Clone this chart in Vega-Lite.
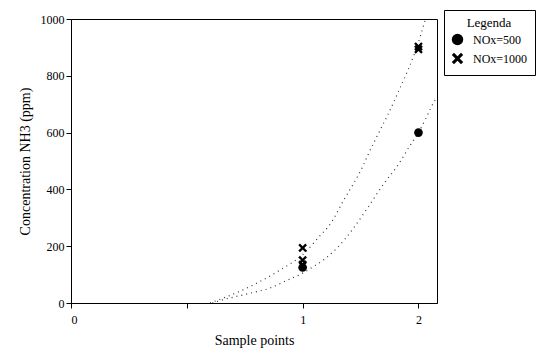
{
  "$schema": "https://vega.github.io/schema/vega-lite/v6.json",
  "width": 366,
  "height": 284,
  "autosize": "none",
  "padding": {"left": 71, "top": 19, "right": 104, "bottom": 50},
  "background": "white",
  "config": {
    "font": "Liberation Serif",
    "view": {"stroke": "black", "strokeWidth": 1},
    "axis": {
      "grid": false,
      "domainColor": "black",
      "tickColor": "black",
      "labelColor": "black",
      "titleColor": "black",
      "labelFont": "Liberation Serif",
      "titleFont": "Liberation Serif",
      "labelFontSize": 12,
      "titleFontSize": 14,
      "titleFontWeight": "normal",
      "tickSize": 5
    },
    "legend": {
      "titleFont": "Liberation Serif",
      "labelFont": "Liberation Serif",
      "titleFontWeight": "normal",
      "titleFontSize": 13,
      "labelFontSize": 12,
      "titleColor": "black",
      "labelColor": "black"
    }
  },
  "datasets": {
    "points": [
      {"sample": 1, "conc": 125, "series": "NOx=500"},
      {"sample": 2, "conc": 600, "series": "NOx=500"},
      {"sample": 1, "conc": 194, "series": "NOx=1000"},
      {"sample": 1, "conc": 151, "series": "NOx=1000"},
      {"sample": 1, "conc": 135, "series": "NOx=1000"},
      {"sample": 2, "conc": 893, "series": "NOx=1000"},
      {"sample": 2, "conc": 903, "series": "NOx=1000"}
    ],
    "curves": [
      {"sample": 0.22, "conc": 0, "series": "NOx=500"},
      {"sample": 0.30, "conc": 10, "series": "NOx=500"},
      {"sample": 0.52, "conc": 32, "series": "NOx=500"},
      {"sample": 0.72, "conc": 53, "series": "NOx=500"},
      {"sample": 0.87, "conc": 81, "series": "NOx=500"},
      {"sample": 0.97, "conc": 99, "series": "NOx=500"},
      {"sample": 1.10, "conc": 130, "series": "NOx=500"},
      {"sample": 1.20, "conc": 158, "series": "NOx=500"},
      {"sample": 1.30, "conc": 195, "series": "NOx=500"},
      {"sample": 1.56, "conc": 334, "series": "NOx=500"},
      {"sample": 1.68, "conc": 408, "series": "NOx=500"},
      {"sample": 1.84, "conc": 496, "series": "NOx=500"},
      {"sample": 1.92, "conc": 550, "series": "NOx=500"},
      {"sample": 2.0, "conc": 600, "series": "NOx=500"},
      {"sample": 2.07, "conc": 655, "series": "NOx=500"},
      {"sample": 2.11, "conc": 690, "series": "NOx=500"},
      {"sample": 2.16, "conc": 725, "series": "NOx=500"},
      {"sample": 0.2, "conc": 0, "series": "NOx=1000"},
      {"sample": 0.5, "conc": 49, "series": "NOx=1000"},
      {"sample": 0.8, "conc": 115, "series": "NOx=1000"},
      {"sample": 1.0, "conc": 170, "series": "NOx=1000"},
      {"sample": 1.17, "conc": 246, "series": "NOx=1000"},
      {"sample": 1.22, "conc": 268, "series": "NOx=1000"},
      {"sample": 1.36, "conc": 366, "series": "NOx=1000"},
      {"sample": 1.52, "conc": 482, "series": "NOx=1000"},
      {"sample": 1.56, "conc": 518, "series": "NOx=1000"},
      {"sample": 1.8, "conc": 720, "series": "NOx=1000"},
      {"sample": 2.02, "conc": 944, "series": "NOx=1000"},
      {"sample": 2.06, "conc": 1000, "series": "NOx=1000"}
    ]
  },
  "layer": [
    {
      "data": {"name": "curves"},
      "mark": {"type": "line", "interpolate": "monotone", "strokeDash": [1, 4], "strokeWidth": 1.2, "color": "#333333", "clip": true},
      "encoding": {
        "x": {"field": "sample", "type": "quantitative"},
        "y": {"field": "conc", "type": "quantitative"},
        "detail": {"field": "series"}
      }
    },
    {
      "data": {"name": "points"},
      "mark": {"type": "point", "filled": true, "color": "black", "opacity": 1, "size": 75},
      "encoding": {
        "x": {
          "field": "sample",
          "type": "quantitative",
          "scale": {"domain": [-1, 2.16], "nice": false, "zero": false},
          "axis": {
            "title": "Sample points",
            "values": [-1, 0, 1, 2],
            "labelExpr": "datum.value == -1 ? '0' : datum.value == 0 ? '' : datum.value == 1 ? '1' : '2'",
            "labelPadding": 6,
            "titlePadding": 8
          }
        },
        "y": {
          "field": "conc",
          "type": "quantitative",
          "scale": {"domain": [0, 1000], "nice": false},
          "axis": {
            "title": "Concentration NH3 (ppm)",
            "values": [0, 200, 400, 600, 800, 1000],
            "format": "d",
            "labelPadding": 2,
            "titlePadding": 8
          }
        },
        "shape": {
          "field": "series",
          "type": "nominal",
          "sort": ["NOx=500", "NOx=1000"],
          "scale": {
            "domain": ["NOx=500", "NOx=1000"],
            "range": ["circle", "M-1,-0.62L-0.62,-1L0,-0.38L0.62,-1L1,-0.62L0.38,0L1,0.62L0.62,1L0,0.38L-0.62,1L-1,0.62L-0.38,0Z"]
          },
          "legend": {
            "title": "Legenda",
            "orient": "none",
            "legendX": 373,
            "legendY": -9,
            "titleAnchor": "middle",
            "titlePadding": 3,
            "strokeColor": "black",
            "fillColor": "white",
            "padding": 7,
            "symbolFillColor": "black",
            "symbolStrokeColor": "black",
            "symbolSize": 130,
            "symbolType": "circle",
            "rowPadding": 0,
            "labelOffset": 9
          }
        }
      }
    }
  ]
}
